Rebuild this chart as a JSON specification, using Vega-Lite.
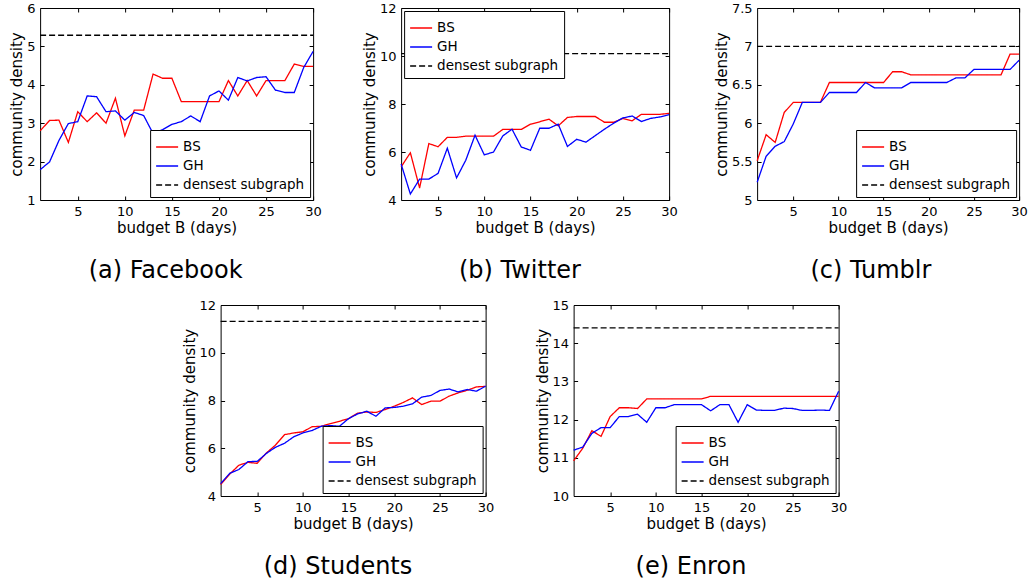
{
"$schema": "https://vega.github.io/schema/vega-lite/v6.json",
"padding": {"left": 9, "top": 1, "right": 0, "bottom": 0},
"config": {
  "font": "DejaVu Sans",
  "view": {"stroke": "black", "strokeWidth": 1},
  "axis": {"grid": false, "domain": false, "tickColor": "black", "tickSize": -4, "tickWidth": 1, "labelPadding": 9, "labelFont": "DejaVu Sans", "labelFontSize": 13, "labelColor": "black", "titleFont": "DejaVu Sans", "titleFontSize": 15, "titleFontWeight": "normal", "titleColor": "black", "labelFlush": false, "titlePadding": 2},
  "legend": {"strokeColor": "black", "fillColor": "white", "padding": 5, "offset": 3, "labelFont": "DejaVu Sans", "labelFontSize": 13.5, "labelColor": "black", "symbolType": "stroke", "symbolSize": 484, "symbolStrokeWidth": 1.3, "rowPadding": -4, "labelOffset": 4, "cornerRadius": 0},
  "title": {"font": "DejaVu Sans", "fontSize": 24, "fontWeight": "normal", "color": "black", "offset": 24, "frame": "bounds"},
  "line": {"strokeWidth": 1.3}
},
"spacing": 14,
"center": true,
"resolve": {"scale": {"color": "independent", "strokeDash": "independent"}},
"vconcat": [
{"hconcat": [
{
 "width": 273, "height": 192,
 "title": {"text": "(a) Facebook", "orient": "bottom"},
 "data": {"values": [
  {"x":1,"y":2.8,"s":"BS"},{"x":2,"y":3.07,"s":"BS"},{"x":3,"y":3.08,"s":"BS"},{"x":4,"y":2.5,"s":"BS"},{"x":5,"y":3.3,"s":"BS"},{"x":6,"y":3.04,"s":"BS"},{"x":7,"y":3.27,"s":"BS"},{"x":8,"y":3.0,"s":"BS"},{"x":9,"y":3.65,"s":"BS"},{"x":10,"y":2.67,"s":"BS"},{"x":11,"y":3.34,"s":"BS"},{"x":12,"y":3.34,"s":"BS"},{"x":13,"y":4.28,"s":"BS"},{"x":14,"y":4.17,"s":"BS"},{"x":15,"y":4.17,"s":"BS"},{"x":16,"y":3.56,"s":"BS"},{"x":17,"y":3.56,"s":"BS"},{"x":18,"y":3.56,"s":"BS"},{"x":19,"y":3.56,"s":"BS"},{"x":20,"y":3.56,"s":"BS"},{"x":21,"y":4.11,"s":"BS"},{"x":22,"y":3.71,"s":"BS"},{"x":23,"y":4.11,"s":"BS"},{"x":24,"y":3.71,"s":"BS"},{"x":25,"y":4.11,"s":"BS"},{"x":26,"y":4.11,"s":"BS"},{"x":27,"y":4.11,"s":"BS"},{"x":28,"y":4.54,"s":"BS"},{"x":29,"y":4.48,"s":"BS"},{"x":30,"y":4.48,"s":"BS"},
  {"x":1,"y":1.79,"s":"GH"},{"x":2,"y":1.99,"s":"GH"},{"x":3,"y":2.55,"s":"GH"},{"x":4,"y":2.99,"s":"GH"},{"x":5,"y":3.04,"s":"GH"},{"x":6,"y":3.71,"s":"GH"},{"x":7,"y":3.69,"s":"GH"},{"x":8,"y":3.3,"s":"GH"},{"x":9,"y":3.32,"s":"GH"},{"x":10,"y":3.08,"s":"GH"},{"x":11,"y":3.28,"s":"GH"},{"x":12,"y":3.2,"s":"GH"},{"x":13,"y":2.73,"s":"GH"},{"x":14,"y":2.83,"s":"GH"},{"x":15,"y":2.97,"s":"GH"},{"x":16,"y":3.04,"s":"GH"},{"x":17,"y":3.19,"s":"GH"},{"x":18,"y":3.04,"s":"GH"},{"x":19,"y":3.71,"s":"GH"},{"x":20,"y":3.84,"s":"GH"},{"x":21,"y":3.6,"s":"GH"},{"x":22,"y":4.19,"s":"GH"},{"x":23,"y":4.1,"s":"GH"},{"x":24,"y":4.19,"s":"GH"},{"x":25,"y":4.21,"s":"GH"},{"x":26,"y":3.86,"s":"GH"},{"x":27,"y":3.8,"s":"GH"},{"x":28,"y":3.8,"s":"GH"},{"x":29,"y":4.45,"s":"GH"},{"x":30,"y":4.87,"s":"GH"},
  {"x":1,"y":5.29,"s":"densest subgraph"},{"x":30,"y":5.29,"s":"densest subgraph"}
 ]},
 "layer": [
  {"mark": {"type": "line", "strokeWidth": 1.3},
   "encoding": {
    "x": {"field": "x", "type": "quantitative", "scale": {"domain": [1, 30], "nice": false, "zero": false}, "axis": {"values": [5,10,15,20,25,30], "title": "budget B (days)"}},
    "y": {"field": "y", "type": "quantitative", "scale": {"domain": [1, 6], "nice": false, "zero": false}, "axis": {"values": [1,2,3,4,5,6], "format": "~g", "title": "community density"}},
    "color": {"field": "s", "type": "nominal", "scale": {"domain": ["BS","GH","densest subgraph"], "range": ["#ff0000","#0000ff","#000000"]}, "legend": {"title": null, "orient": "bottom-right"}},
    "strokeDash": {"field": "s", "type": "nominal", "scale": {"domain": ["BS","GH","densest subgraph"], "range": [[1,0],[1,0],[6,3]]}, "legend": {"title": null, "orient": "bottom-right"}}
   }},
  {"mark": {"type": "line", "opacity": 0},
   "encoding": {
    "x": {"field": "x", "type": "quantitative", "scale": {"domain": [1, 30], "nice": false, "zero": false}, "axis": {"orient": "top", "values": [5,10,15,20,25,30], "labels": false, "title": null}},
    "y": {"field": "y", "type": "quantitative", "scale": {"domain": [1, 6], "nice": false, "zero": false}, "axis": {"orient": "right", "values": [1,2,3,4,5,6], "labels": false, "title": null}},
    "detail": {"field": "s"}
   }}
 ],
 "resolve": {"axis": {"x": "independent", "y": "independent"}}
},
{
 "width": 268, "height": 192,
 "title": {"text": "(b) Twitter", "orient": "bottom"},
 "data": {"values": [
  {"x":1,"y":5.38,"s":"BS"},{"x":2,"y":5.97,"s":"BS"},{"x":3,"y":4.5,"s":"BS"},{"x":4,"y":6.35,"s":"BS"},{"x":5,"y":6.22,"s":"BS"},{"x":6,"y":6.61,"s":"BS"},{"x":7,"y":6.61,"s":"BS"},{"x":8,"y":6.66,"s":"BS"},{"x":9,"y":6.66,"s":"BS"},{"x":10,"y":6.66,"s":"BS"},{"x":11,"y":6.66,"s":"BS"},{"x":12,"y":6.94,"s":"BS"},{"x":13,"y":6.94,"s":"BS"},{"x":14,"y":6.94,"s":"BS"},{"x":15,"y":7.16,"s":"BS"},{"x":16,"y":7.26,"s":"BS"},{"x":17,"y":7.37,"s":"BS"},{"x":18,"y":7.09,"s":"BS"},{"x":19,"y":7.44,"s":"BS"},{"x":20,"y":7.48,"s":"BS"},{"x":21,"y":7.48,"s":"BS"},{"x":22,"y":7.48,"s":"BS"},{"x":23,"y":7.24,"s":"BS"},{"x":24,"y":7.24,"s":"BS"},{"x":25,"y":7.4,"s":"BS"},{"x":26,"y":7.3,"s":"BS"},{"x":27,"y":7.57,"s":"BS"},{"x":28,"y":7.57,"s":"BS"},{"x":29,"y":7.57,"s":"BS"},{"x":30,"y":7.61,"s":"BS"},
  {"x":1,"y":5.5,"s":"GH"},{"x":2,"y":4.25,"s":"GH"},{"x":3,"y":4.87,"s":"GH"},{"x":4,"y":4.87,"s":"GH"},{"x":5,"y":5.11,"s":"GH"},{"x":6,"y":6.16,"s":"GH"},{"x":7,"y":4.92,"s":"GH"},{"x":8,"y":5.66,"s":"GH"},{"x":9,"y":6.7,"s":"GH"},{"x":10,"y":5.88,"s":"GH"},{"x":11,"y":6.0,"s":"GH"},{"x":12,"y":6.67,"s":"GH"},{"x":13,"y":6.95,"s":"GH"},{"x":14,"y":6.21,"s":"GH"},{"x":15,"y":6.07,"s":"GH"},{"x":16,"y":6.99,"s":"GH"},{"x":17,"y":6.99,"s":"GH"},{"x":18,"y":7.16,"s":"GH"},{"x":19,"y":6.23,"s":"GH"},{"x":20,"y":6.53,"s":"GH"},{"x":21,"y":6.41,"s":"GH"},{"x":22,"y":6.68,"s":"GH"},{"x":23,"y":6.95,"s":"GH"},{"x":24,"y":7.2,"s":"GH"},{"x":25,"y":7.42,"s":"GH"},{"x":26,"y":7.5,"s":"GH"},{"x":27,"y":7.27,"s":"GH"},{"x":28,"y":7.4,"s":"GH"},{"x":29,"y":7.46,"s":"GH"},{"x":30,"y":7.56,"s":"GH"},
  {"x":1,"y":10.1,"s":"densest subgraph"},{"x":30,"y":10.1,"s":"densest subgraph"}
 ]},
 "layer": [
  {"mark": {"type": "line", "strokeWidth": 1.3},
   "encoding": {
    "x": {"field": "x", "type": "quantitative", "scale": {"domain": [1, 30], "nice": false, "zero": false}, "axis": {"values": [5,10,15,20,25,30], "title": "budget B (days)"}},
    "y": {"field": "y", "type": "quantitative", "scale": {"domain": [4, 12], "nice": false, "zero": false}, "axis": {"values": [4,6,8,10,12], "format": "~g", "title": "community density"}},
    "color": {"field": "s", "type": "nominal", "scale": {"domain": ["BS","GH","densest subgraph"], "range": ["#ff0000","#0000ff","#000000"]}, "legend": {"title": null, "orient": "top-left"}},
    "strokeDash": {"field": "s", "type": "nominal", "scale": {"domain": ["BS","GH","densest subgraph"], "range": [[1,0],[1,0],[6,3]]}, "legend": {"title": null, "orient": "top-left"}}
   }},
  {"mark": {"type": "line", "opacity": 0},
   "encoding": {
    "x": {"field": "x", "type": "quantitative", "scale": {"domain": [1, 30], "nice": false, "zero": false}, "axis": {"orient": "top", "values": [5,10,15,20,25,30], "labels": false, "title": null}},
    "y": {"field": "y", "type": "quantitative", "scale": {"domain": [4, 12], "nice": false, "zero": false}, "axis": {"orient": "right", "values": [4,6,8,10,12], "labels": false, "title": null}},
    "detail": {"field": "s"}
   }}
 ],
 "resolve": {"axis": {"x": "independent", "y": "independent"}}
},
{
 "width": 262, "height": 192,
 "title": {"text": "(c) Tumblr", "orient": "bottom"},
 "data": {"values": [
  {"x":1,"y":5.51,"s":"BS"},{"x":2,"y":5.85,"s":"BS"},{"x":3,"y":5.75,"s":"BS"},{"x":4,"y":6.14,"s":"BS"},{"x":5,"y":6.27,"s":"BS"},{"x":6,"y":6.27,"s":"BS"},{"x":7,"y":6.27,"s":"BS"},{"x":8,"y":6.27,"s":"BS"},{"x":9,"y":6.53,"s":"BS"},{"x":10,"y":6.53,"s":"BS"},{"x":11,"y":6.53,"s":"BS"},{"x":12,"y":6.53,"s":"BS"},{"x":13,"y":6.53,"s":"BS"},{"x":14,"y":6.53,"s":"BS"},{"x":15,"y":6.53,"s":"BS"},{"x":16,"y":6.67,"s":"BS"},{"x":17,"y":6.67,"s":"BS"},{"x":18,"y":6.63,"s":"BS"},{"x":19,"y":6.63,"s":"BS"},{"x":20,"y":6.63,"s":"BS"},{"x":21,"y":6.63,"s":"BS"},{"x":22,"y":6.63,"s":"BS"},{"x":23,"y":6.63,"s":"BS"},{"x":24,"y":6.63,"s":"BS"},{"x":25,"y":6.63,"s":"BS"},{"x":26,"y":6.63,"s":"BS"},{"x":27,"y":6.63,"s":"BS"},{"x":28,"y":6.63,"s":"BS"},{"x":29,"y":6.9,"s":"BS"},{"x":30,"y":6.9,"s":"BS"},
  {"x":1,"y":5.23,"s":"GH"},{"x":2,"y":5.57,"s":"GH"},{"x":3,"y":5.7,"s":"GH"},{"x":4,"y":5.76,"s":"GH"},{"x":5,"y":5.99,"s":"GH"},{"x":6,"y":6.27,"s":"GH"},{"x":7,"y":6.27,"s":"GH"},{"x":8,"y":6.27,"s":"GH"},{"x":9,"y":6.4,"s":"GH"},{"x":10,"y":6.4,"s":"GH"},{"x":11,"y":6.4,"s":"GH"},{"x":12,"y":6.4,"s":"GH"},{"x":13,"y":6.53,"s":"GH"},{"x":14,"y":6.46,"s":"GH"},{"x":15,"y":6.46,"s":"GH"},{"x":16,"y":6.46,"s":"GH"},{"x":17,"y":6.46,"s":"GH"},{"x":18,"y":6.53,"s":"GH"},{"x":19,"y":6.53,"s":"GH"},{"x":20,"y":6.53,"s":"GH"},{"x":21,"y":6.53,"s":"GH"},{"x":22,"y":6.53,"s":"GH"},{"x":23,"y":6.59,"s":"GH"},{"x":24,"y":6.59,"s":"GH"},{"x":25,"y":6.7,"s":"GH"},{"x":26,"y":6.7,"s":"GH"},{"x":27,"y":6.7,"s":"GH"},{"x":28,"y":6.7,"s":"GH"},{"x":29,"y":6.7,"s":"GH"},{"x":30,"y":6.82,"s":"GH"},
  {"x":1,"y":7.0,"s":"densest subgraph"},{"x":30,"y":7.0,"s":"densest subgraph"}
 ]},
 "layer": [
  {"mark": {"type": "line", "strokeWidth": 1.3},
   "encoding": {
    "x": {"field": "x", "type": "quantitative", "scale": {"domain": [1, 30], "nice": false, "zero": false}, "axis": {"values": [5,10,15,20,25,30], "title": "budget B (days)"}},
    "y": {"field": "y", "type": "quantitative", "scale": {"domain": [5, 7.5], "nice": false, "zero": false}, "axis": {"values": [5,5.5,6,6.5,7,7.5], "format": "~g", "title": "community density"}},
    "color": {"field": "s", "type": "nominal", "scale": {"domain": ["BS","GH","densest subgraph"], "range": ["#ff0000","#0000ff","#000000"]}, "legend": {"title": null, "orient": "bottom-right"}},
    "strokeDash": {"field": "s", "type": "nominal", "scale": {"domain": ["BS","GH","densest subgraph"], "range": [[1,0],[1,0],[6,3]]}, "legend": {"title": null, "orient": "bottom-right"}}
   }},
  {"mark": {"type": "line", "opacity": 0},
   "encoding": {
    "x": {"field": "x", "type": "quantitative", "scale": {"domain": [1, 30], "nice": false, "zero": false}, "axis": {"orient": "top", "values": [5,10,15,20,25,30], "labels": false, "title": null}},
    "y": {"field": "y", "type": "quantitative", "scale": {"domain": [5, 7.5], "nice": false, "zero": false}, "axis": {"orient": "right", "values": [5,5.5,6,6.5,7,7.5], "labels": false, "title": null}},
    "detail": {"field": "s"}
   }}
 ],
 "resolve": {"axis": {"x": "independent", "y": "independent"}}
}
], "spacing": 88, "bounds": "flush", "resolve": {"scale": {"color": "independent", "strokeDash": "independent"}}},
{"hconcat": [
{
 "width": 265, "height": 191,
 "title": {"text": "(d) Students", "orient": "bottom"},
 "data": {"values": [
  {"x":1,"y":4.48,"s":"BS"},{"x":2,"y":4.92,"s":"BS"},{"x":3,"y":5.29,"s":"BS"},{"x":4,"y":5.41,"s":"BS"},{"x":5,"y":5.37,"s":"BS"},{"x":6,"y":5.8,"s":"BS"},{"x":7,"y":6.13,"s":"BS"},{"x":8,"y":6.57,"s":"BS"},{"x":9,"y":6.64,"s":"BS"},{"x":10,"y":6.69,"s":"BS"},{"x":11,"y":6.9,"s":"BS"},{"x":12,"y":6.92,"s":"BS"},{"x":13,"y":7.03,"s":"BS"},{"x":14,"y":7.13,"s":"BS"},{"x":15,"y":7.24,"s":"BS"},{"x":16,"y":7.47,"s":"BS"},{"x":17,"y":7.52,"s":"BS"},{"x":18,"y":7.5,"s":"BS"},{"x":19,"y":7.62,"s":"BS"},{"x":20,"y":7.76,"s":"BS"},{"x":21,"y":7.92,"s":"BS"},{"x":22,"y":8.11,"s":"BS"},{"x":23,"y":7.83,"s":"BS"},{"x":24,"y":7.97,"s":"BS"},{"x":25,"y":7.97,"s":"BS"},{"x":26,"y":8.18,"s":"BS"},{"x":27,"y":8.32,"s":"BS"},{"x":28,"y":8.43,"s":"BS"},{"x":29,"y":8.57,"s":"BS"},{"x":30,"y":8.59,"s":"BS"},
  {"x":1,"y":4.52,"s":"GH"},{"x":2,"y":4.95,"s":"GH"},{"x":3,"y":5.11,"s":"GH"},{"x":4,"y":5.44,"s":"GH"},{"x":5,"y":5.45,"s":"GH"},{"x":6,"y":5.78,"s":"GH"},{"x":7,"y":6.04,"s":"GH"},{"x":8,"y":6.21,"s":"GH"},{"x":9,"y":6.48,"s":"GH"},{"x":10,"y":6.64,"s":"GH"},{"x":11,"y":6.74,"s":"GH"},{"x":12,"y":6.92,"s":"GH"},{"x":13,"y":6.95,"s":"GH"},{"x":14,"y":6.92,"s":"GH"},{"x":15,"y":7.24,"s":"GH"},{"x":16,"y":7.44,"s":"GH"},{"x":17,"y":7.55,"s":"GH"},{"x":18,"y":7.34,"s":"GH"},{"x":19,"y":7.69,"s":"GH"},{"x":20,"y":7.71,"s":"GH"},{"x":21,"y":7.76,"s":"GH"},{"x":22,"y":7.86,"s":"GH"},{"x":23,"y":8.14,"s":"GH"},{"x":24,"y":8.21,"s":"GH"},{"x":25,"y":8.42,"s":"GH"},{"x":26,"y":8.48,"s":"GH"},{"x":27,"y":8.36,"s":"GH"},{"x":28,"y":8.46,"s":"GH"},{"x":29,"y":8.39,"s":"GH"},{"x":30,"y":8.6,"s":"GH"},
  {"x":1,"y":11.31,"s":"densest subgraph"},{"x":30,"y":11.31,"s":"densest subgraph"}
 ]},
 "layer": [
  {"mark": {"type": "line", "strokeWidth": 1.3},
   "encoding": {
    "x": {"field": "x", "type": "quantitative", "scale": {"domain": [1, 30], "nice": false, "zero": false}, "axis": {"values": [5,10,15,20,25,30], "title": "budget B (days)"}},
    "y": {"field": "y", "type": "quantitative", "scale": {"domain": [4, 12], "nice": false, "zero": false}, "axis": {"values": [4,6,8,10,12], "format": "~g", "title": "community density"}},
    "color": {"field": "s", "type": "nominal", "scale": {"domain": ["BS","GH","densest subgraph"], "range": ["#ff0000","#0000ff","#000000"]}, "legend": {"title": null, "orient": "bottom-right"}},
    "strokeDash": {"field": "s", "type": "nominal", "scale": {"domain": ["BS","GH","densest subgraph"], "range": [[1,0],[1,0],[6,3]]}, "legend": {"title": null, "orient": "bottom-right"}}
   }},
  {"mark": {"type": "line", "opacity": 0},
   "encoding": {
    "x": {"field": "x", "type": "quantitative", "scale": {"domain": [1, 30], "nice": false, "zero": false}, "axis": {"orient": "top", "values": [5,10,15,20,25,30], "labels": false, "title": null}},
    "y": {"field": "y", "type": "quantitative", "scale": {"domain": [4, 12], "nice": false, "zero": false}, "axis": {"orient": "right", "values": [4,6,8,10,12], "labels": false, "title": null}},
    "detail": {"field": "s"}
   }}
 ],
 "resolve": {"axis": {"x": "independent", "y": "independent"}}
},
{
 "width": 265, "height": 191,
 "title": {"text": "(e) Enron", "orient": "bottom"},
 "data": {"values": [
  {"x":1,"y":10.92,"s":"BS"},{"x":2,"y":11.25,"s":"BS"},{"x":3,"y":11.71,"s":"BS"},{"x":4,"y":11.56,"s":"BS"},{"x":5,"y":12.08,"s":"BS"},{"x":6,"y":12.31,"s":"BS"},{"x":7,"y":12.31,"s":"BS"},{"x":8,"y":12.29,"s":"BS"},{"x":9,"y":12.54,"s":"BS"},{"x":10,"y":12.54,"s":"BS"},{"x":11,"y":12.54,"s":"BS"},{"x":12,"y":12.54,"s":"BS"},{"x":13,"y":12.54,"s":"BS"},{"x":14,"y":12.54,"s":"BS"},{"x":15,"y":12.54,"s":"BS"},{"x":16,"y":12.61,"s":"BS"},{"x":17,"y":12.61,"s":"BS"},{"x":18,"y":12.61,"s":"BS"},{"x":19,"y":12.61,"s":"BS"},{"x":20,"y":12.61,"s":"BS"},{"x":21,"y":12.61,"s":"BS"},{"x":22,"y":12.61,"s":"BS"},{"x":23,"y":12.61,"s":"BS"},{"x":24,"y":12.61,"s":"BS"},{"x":25,"y":12.61,"s":"BS"},{"x":26,"y":12.61,"s":"BS"},{"x":27,"y":12.61,"s":"BS"},{"x":28,"y":12.61,"s":"BS"},{"x":29,"y":12.61,"s":"BS"},{"x":30,"y":12.61,"s":"BS"},
  {"x":1,"y":11.2,"s":"GH"},{"x":2,"y":11.28,"s":"GH"},{"x":3,"y":11.64,"s":"GH"},{"x":4,"y":11.79,"s":"GH"},{"x":5,"y":11.79,"s":"GH"},{"x":6,"y":12.08,"s":"GH"},{"x":7,"y":12.08,"s":"GH"},{"x":8,"y":12.14,"s":"GH"},{"x":9,"y":11.93,"s":"GH"},{"x":10,"y":12.31,"s":"GH"},{"x":11,"y":12.31,"s":"GH"},{"x":12,"y":12.39,"s":"GH"},{"x":13,"y":12.39,"s":"GH"},{"x":14,"y":12.39,"s":"GH"},{"x":15,"y":12.39,"s":"GH"},{"x":16,"y":12.23,"s":"GH"},{"x":17,"y":12.39,"s":"GH"},{"x":18,"y":12.39,"s":"GH"},{"x":19,"y":11.93,"s":"GH"},{"x":20,"y":12.39,"s":"GH"},{"x":21,"y":12.25,"s":"GH"},{"x":22,"y":12.24,"s":"GH"},{"x":23,"y":12.24,"s":"GH"},{"x":24,"y":12.3,"s":"GH"},{"x":25,"y":12.29,"s":"GH"},{"x":26,"y":12.24,"s":"GH"},{"x":27,"y":12.24,"s":"GH"},{"x":28,"y":12.25,"s":"GH"},{"x":29,"y":12.24,"s":"GH"},{"x":30,"y":12.74,"s":"GH"},
  {"x":1,"y":14.4,"s":"densest subgraph"},{"x":30,"y":14.4,"s":"densest subgraph"}
 ]},
 "layer": [
  {"mark": {"type": "line", "strokeWidth": 1.3},
   "encoding": {
    "x": {"field": "x", "type": "quantitative", "scale": {"domain": [1, 30], "nice": false, "zero": false}, "axis": {"values": [5,10,15,20,25,30], "title": "budget B (days)"}},
    "y": {"field": "y", "type": "quantitative", "scale": {"domain": [10, 15], "nice": false, "zero": false}, "axis": {"values": [10,11,12,13,14,15], "format": "~g", "title": "community density"}},
    "color": {"field": "s", "type": "nominal", "scale": {"domain": ["BS","GH","densest subgraph"], "range": ["#ff0000","#0000ff","#000000"]}, "legend": {"title": null, "orient": "bottom-right"}},
    "strokeDash": {"field": "s", "type": "nominal", "scale": {"domain": ["BS","GH","densest subgraph"], "range": [[1,0],[1,0],[6,3]]}, "legend": {"title": null, "orient": "bottom-right"}}
   }},
  {"mark": {"type": "line", "opacity": 0},
   "encoding": {
    "x": {"field": "x", "type": "quantitative", "scale": {"domain": [1, 30], "nice": false, "zero": false}, "axis": {"orient": "top", "values": [5,10,15,20,25,30], "labels": false, "title": null}},
    "y": {"field": "y", "type": "quantitative", "scale": {"domain": [10, 15], "nice": false, "zero": false}, "axis": {"orient": "right", "values": [10,11,12,13,14,15], "labels": false, "title": null}},
    "detail": {"field": "s"}
   }}
 ],
 "resolve": {"axis": {"x": "independent", "y": "independent"}}
}
], "spacing": 88, "bounds": "flush", "resolve": {"scale": {"color": "independent", "strokeDash": "independent"}}}
]
}
